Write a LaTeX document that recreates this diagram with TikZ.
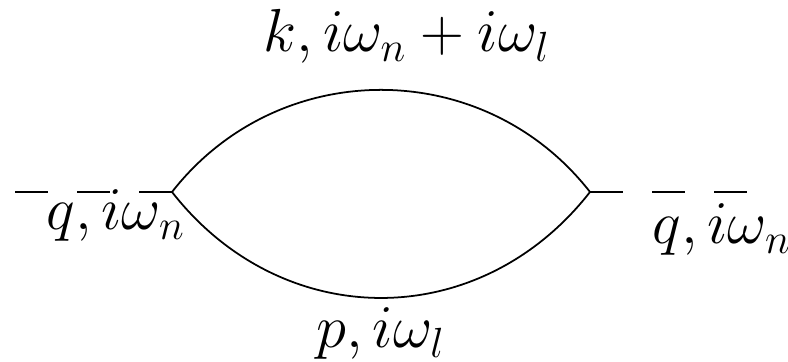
\documentclass[tikz,border=0pt]{standalone}
\usetikzlibrary{positioning}

\begin{document}
\begin{tikzpicture}[
    x=0.01cm, y=-0.01cm,
    prop/.style={line width=0.5pt, black},
    ext/.style={line width=0.6pt, black, dash pattern=on 0.33cm off 0.29cm},
    lbl/.style={anchor=base, inner sep=0pt, font=\fontsize{16.6}{20}\selectfont},
]
\useasboundingbox (0,0) rectangle (788,362);

% ── Vertices and external ends ──
\coordinate (vl) at (172,192);
\coordinate (vr) at (590,192);
\coordinate (inl) at (15,192);
\coordinate (outr) at (747,192);

% ── External (dashed) legs ──
\draw[ext] (inl) -- (vl);
\draw[ext] (vr) -- (outr);

% ── Fermion loop ──
\draw[prop] (vl) to[out=52, in=128, looseness=1.06] (vr);
\draw[prop] (vl) to[out=-52, in=-128, looseness=1.1] (vr);

% ── Labels ──
\node[lbl] (ktop) at (407,52) {$k,i\omega_n+i\omega_l$};
\node[lbl] (pbot) at (381,348) {$p,i\omega_l$};
\node[lbl] (qin) at (116,230) {$q,i\omega_n$};
\node[lbl] (qout) at (722,244) {$q,i\omega_n$};

\end{tikzpicture}
\end{document}
